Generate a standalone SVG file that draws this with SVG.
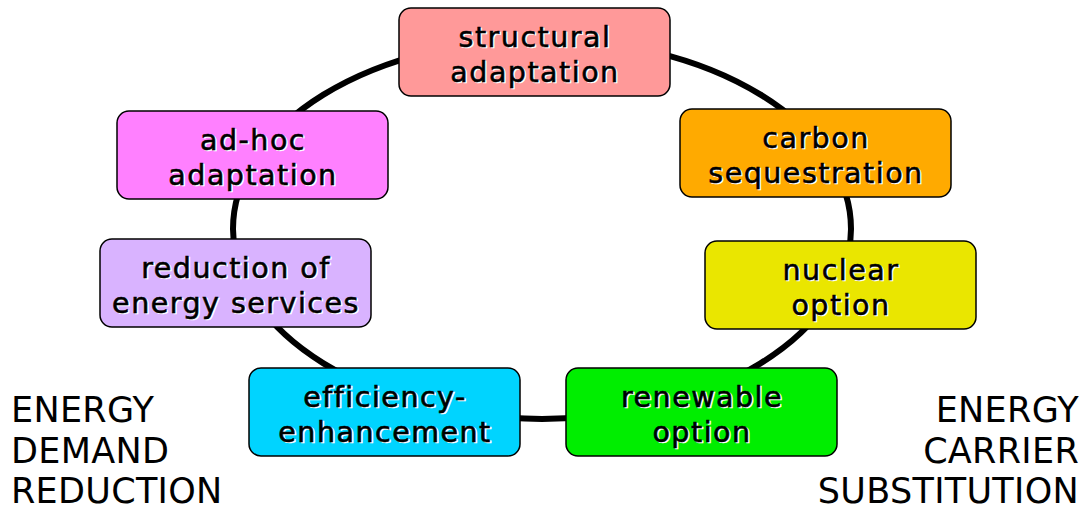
<svg xmlns="http://www.w3.org/2000/svg" width="1088" height="509" viewBox="0 0 1088 509">
<style>
.box{stroke:#000;stroke-width:1.5}
.t{font-family:"DejaVu Sans",Verdana,sans-serif;font-size:28.5px;letter-spacing:1.5px;text-anchor:middle}
.sh{fill:#fff;stroke:#fff;stroke-width:0.6}
.fg{fill:#000;stroke:#000;stroke-width:0.6}
.lab{font-family:"DejaVu Sans",Verdana,sans-serif;font-size:35px;letter-spacing:0.3px;fill:#000}
</style>
<rect width="1088" height="509" fill="#fff"/>
<g id="connectors">
<ellipse cx="542" cy="229" rx="309" ry="190" fill="none" stroke="#000" stroke-width="6"/>
</g>
<g id="structural">
<rect class="box" x="399" y="8" width="271" height="88" rx="12" fill="#FF9999"/>
<text class="t sh" x="536.5" y="48">structural</text><text class="t fg" x="535" y="46.5">structural</text>
<text class="t sh" x="536.5" y="83">adaptation</text><text class="t fg" x="535" y="81.5">adaptation</text>
</g>
<g id="carbon">
<rect class="box" x="680" y="109" width="271" height="88" rx="12" fill="#FFAA00"/>
<text class="t sh" x="817.5" y="149">carbon</text><text class="t fg" x="816" y="147.5">carbon</text>
<text class="t sh" x="817.5" y="184">sequestration</text><text class="t fg" x="816" y="182.5">sequestration</text>
</g>
<g id="nuclear">
<rect class="box" x="705" y="241" width="271" height="88" rx="12" fill="#EAE600"/>
<text class="t sh" x="842.5" y="281">nuclear</text><text class="t fg" x="841" y="279.5">nuclear</text>
<text class="t sh" x="842.5" y="316">option</text><text class="t fg" x="841" y="314.5">option</text>
</g>
<g id="renewable">
<rect class="box" x="566" y="368" width="271" height="88" rx="12" fill="#00EE00"/>
<text class="t sh" x="703.5" y="408">renewable</text><text class="t fg" x="702" y="406.5">renewable</text>
<text class="t sh" x="703.5" y="443">option</text><text class="t fg" x="702" y="441.5">option</text>
</g>
<g id="efficiency">
<rect class="box" x="249" y="368" width="271" height="88" rx="12" fill="#00D4FF"/>
<text class="t sh" x="386.5" y="408">efficiency-</text><text class="t fg" x="385" y="406.5">efficiency-</text>
<text class="t sh" x="386.5" y="443">enhancement</text><text class="t fg" x="385" y="441.5">enhancement</text>
</g>
<g id="reduction">
<rect class="box" x="100" y="239" width="271" height="88" rx="12" fill="#D9B3FF"/>
<text class="t sh" x="237.5" y="279">reduction of</text><text class="t fg" x="236" y="277.5">reduction of</text>
<text class="t sh" x="237.5" y="314">energy services</text><text class="t fg" x="236" y="312.5">energy services</text>
</g>
<g id="adhoc">
<rect class="box" x="117" y="111" width="271" height="88" rx="12" fill="#FF80FF"/>
<text class="t sh" x="254.5" y="151">ad-hoc</text><text class="t fg" x="253" y="149.5">ad-hoc</text>
<text class="t sh" x="254.5" y="186">adaptation</text><text class="t fg" x="253" y="184.5">adaptation</text>
</g>
<g id="demand-label">
<text class="lab" x="11" y="422">ENERGY</text>
<text class="lab" x="11" y="463">DEMAND</text>
<text class="lab" x="11" y="503">REDUCTION</text>
</g>
<g id="carrier-label">
<text class="lab" x="1079" y="422" text-anchor="end">ENERGY</text>
<text class="lab" x="1079" y="463" text-anchor="end">CARRIER</text>
<text class="lab" x="1079" y="503" text-anchor="end">SUBSTITUTION</text>
</g>
</svg>
